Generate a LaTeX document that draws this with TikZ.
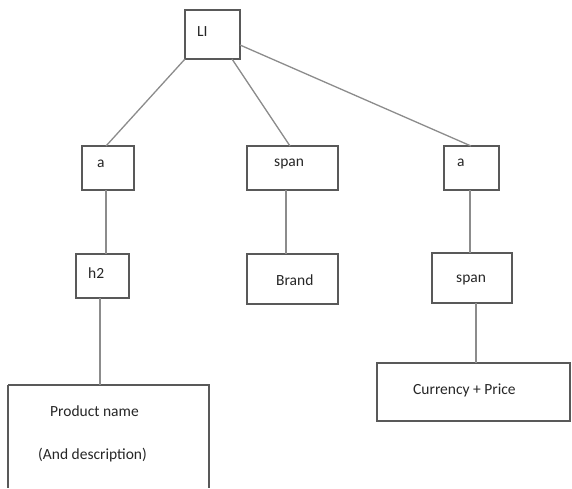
\documentclass[tikz,border=0pt]{standalone}
\usepackage{fontspec}
\setmainfont{Carlito}
\begin{document}
\begin{tikzpicture}[x=1pt,y=-1pt,
  box/.style={draw=black!65,line width=1.1pt},
  conn/.style={draw=black!45,line width=1.3pt},
  lbl/.style={inner sep=0pt,font=\fontsize{15.5}{17}\selectfont,text=black!85}]
\useasboundingbox (0,0) rectangle (572,488);
\fill[white] (0,0) rectangle (572,488);
% boxes
\draw[box] (185,10) rectangle (240,59);
\draw[box] (82,146) rectangle (134,190);
\draw[box] (247,146) rectangle (338,190);
\draw[box] (444,146) rectangle (499,190);
\draw[box] (76,254) rectangle (129,298);
\draw[box] (247,254) rectangle (338,304);
\draw[box] (432,253) rectangle (512,303);
\draw[box] (377,363) rectangle (570,421);
\draw[box] (8,385) -- (8,488) (8,385) -- (209,385) -- (209,488);
% named anchor coordinates
\coordinate (LIbl) at (185,59);
\coordinate (LIb) at (232,59);
\coordinate (LIr) at (240,45);
\coordinate (aLt) at (106,146);
\coordinate (aLb) at (106,190);
\coordinate (spt) at (290,146);
\coordinate (spb) at (286,190);
\coordinate (aRt) at (471,146);
\coordinate (aRb) at (470,190);
\coordinate (h2t) at (106,254);
\coordinate (h2b) at (100,298);
\coordinate (brt) at (286,254);
\coordinate (spRt) at (470,253);
\coordinate (spRb) at (476,303);
\coordinate (cpt) at (476,363);
\coordinate (pnt) at (100,385);
% connectors
\draw[conn] (LIbl) -- (aLt);
\draw[conn] (LIb) -- (spt);
\draw[conn] (LIr) -- (aRt);
\draw[conn] (aLb) -- (h2t);
\draw[conn] (spb) -- (brt);
\draw[conn] (aRb) -- (spRt);
\draw[conn] (h2b) -- (pnt);
\draw[conn] (spRb) -- (cpt);
% labels
\node[lbl,anchor=west] (tLI) at (197,32) {LI};
\node[lbl,anchor=west] (ta1) at (97,164) {a};
\node[lbl,anchor=west] (tsp) at (274,164) {span};
\node[lbl,anchor=west] (ta2) at (457,163) {a};
\node[lbl,anchor=west] (th2) at (88,273) {h2};
\node[lbl,anchor=west] (tbr) at (276,280) {Brand};
\node[lbl,anchor=west] (tsp2) at (456,280) {span};
\node[lbl,anchor=west] (tcp) at (413,390) {Currency + Price};
\node[lbl,anchor=west] (tpn) at (50,411) {Product name};
\node[lbl,anchor=west] (tad) at (38,455) {(And description)};
\end{tikzpicture}
\end{document}
